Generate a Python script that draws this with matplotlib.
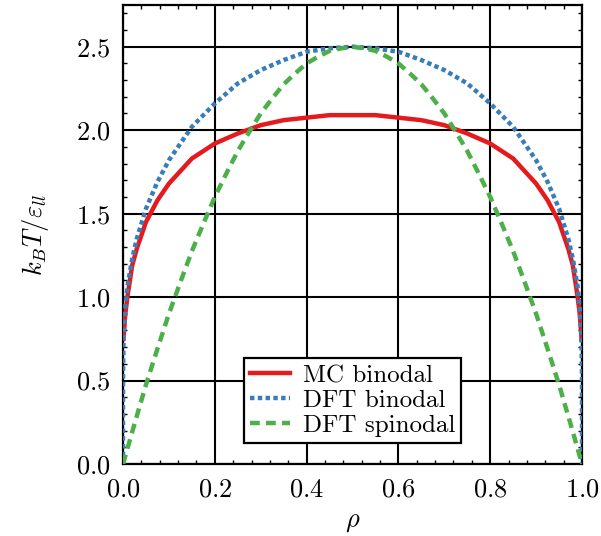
import matplotlib
matplotlib.use('Agg')
import matplotlib.pyplot as plt
from matplotlib.ticker import MultipleLocator

plt.rcParams['font.family'] = 'serif'
plt.rcParams['font.serif'] = ['cmr10']
plt.rcParams['mathtext.fontset'] = 'cm'
plt.rcParams['axes.formatter.use_mathtext'] = True

# MC binodal
mc_rho = [0.001, 0.005, 0.01, 0.02, 0.03, 0.05, 0.075, 0.1, 0.15, 0.2, 0.25, 0.3, 0.35, 0.4, 0.45, 0.5,
          0.55, 0.6, 0.65, 0.7, 0.75, 0.8, 0.85, 0.9, 0.925, 0.95, 0.97, 0.98, 0.99, 0.995, 0.999]
mc_T = [0.75, 0.90, 1.01, 1.19, 1.29, 1.45, 1.58, 1.68, 1.83, 1.92, 1.98, 2.03, 2.06, 2.075, 2.09, 2.09,
        2.09, 2.075, 2.06, 2.03, 1.98, 1.92, 1.83, 1.68, 1.58, 1.45, 1.29, 1.19, 1.01, 0.90, 0.75]

# DFT binodal
dft_b_rho = [0.0, 1e-6, 1e-4, 0.001, 0.002, 0.005, 0.01, 0.02, 0.03, 0.05, 0.075, 0.1, 0.15, 0.2, 0.25,
             0.3, 0.35, 0.4, 0.45, 0.5, 0.55, 0.6, 0.65, 0.7, 0.75, 0.8, 0.85, 0.9, 0.925, 0.95, 0.97,
             0.98, 0.99, 0.995, 0.998, 0.999, 0.9999, 0.999999, 1.0]
dft_b_T = [0.0, 0.36, 0.54, 0.72, 0.80, 0.94, 1.07, 1.23, 1.35, 1.53, 1.69, 1.82, 2.02, 2.16, 2.28,
           2.36, 2.42, 2.47, 2.49, 2.50, 2.49, 2.47, 2.42, 2.36, 2.28, 2.16, 2.02, 1.82, 1.69, 1.53, 1.35,
           1.23, 1.07, 0.94, 0.80, 0.72, 0.54, 0.36, 0.0]

# DFT spinodal
dft_s_rho = [0.0, 0.025, 0.05, 0.075, 0.1, 0.125, 0.15, 0.175, 0.2, 0.225, 0.25, 0.275, 0.3, 0.325, 0.35,
             0.375, 0.4, 0.425, 0.45, 0.475, 0.5, 0.525, 0.55, 0.575, 0.6, 0.625, 0.65, 0.675, 0.7,
             0.725, 0.75, 0.775, 0.8, 0.825, 0.85, 0.875, 0.9, 0.925, 0.95, 0.975, 1.0]
dft_s_T = [0.0, 0.24, 0.475, 0.69, 0.90, 1.09, 1.275, 1.44, 1.60, 1.74, 1.875, 1.99, 2.10, 2.19, 2.275,
           2.34, 2.40, 2.44, 2.475, 2.49, 2.50, 2.49, 2.475, 2.44, 2.40, 2.34, 2.275, 2.19, 2.10,
           1.99, 1.875, 1.74, 1.60, 1.44, 1.275, 1.09, 0.90, 0.69, 0.475, 0.24, 0.0]

fig = plt.figure(figsize=(6.01, 5.36), dpi=100)
ax = fig.add_axes([0.2047, 0.1343, 0.7637, 0.8564])

ax.plot(mc_rho, mc_T, color='#e41a1c', lw=3.2, label='MC binodal', zorder=3)
ax.plot(dft_b_rho, dft_b_T, color='#377eb8', lw=3.2, dashes=(1.0, 0.75), label='DFT binodal', zorder=3)
ax.plot(dft_s_rho, dft_s_T, color='#4daf4a', lw=3.2, dashes=(2.2, 1.4), label='DFT spinodal', zorder=3)

ax.set_xlim(0, 1)
ax.set_ylim(0, 2.75)
ax.xaxis.set_major_locator(MultipleLocator(0.2))
ax.xaxis.set_minor_locator(MultipleLocator(0.04))
ax.yaxis.set_major_locator(MultipleLocator(0.5))
ax.yaxis.set_minor_locator(MultipleLocator(0.1))
ax.grid(True, which='major', color='black', lw=1.5)
ax.tick_params(which='both', direction='in', top=True, right=True, labelsize=19)
ax.tick_params(which='major', length=6, width=1.2)
ax.tick_params(axis='x', which='major', pad=10)
ax.tick_params(axis='y', which='major', pad=9)
ax.tick_params(which='minor', length=3, width=1.0)
for s in ax.spines.values():
    s.set_linewidth(1.6)

ax.set_xlabel(r'$\rho$', fontsize=19, labelpad=6)
ax.set_ylabel(r'$k_BT/\varepsilon_{ll}$', fontsize=19, labelpad=18)

leg = ax.legend(loc='lower center', bbox_to_anchor=(0.5, 0.045), fontsize=18, fancybox=False,
                framealpha=1, edgecolor='black', handlelength=1.6, borderpad=0.25,
                labelspacing=0.1, handletextpad=0.5, borderaxespad=0)
leg.get_frame().set_linewidth(1.6)

fig.savefig('out.png', dpi=100)
